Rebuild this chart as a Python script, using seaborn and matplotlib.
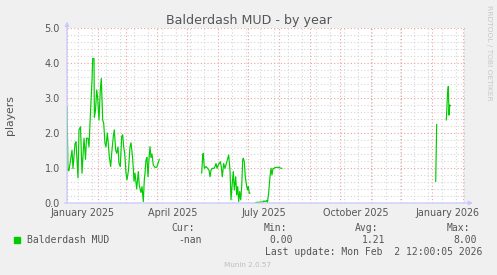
import numpy as np
import pandas as pd
import matplotlib
matplotlib.use("Agg")
import matplotlib.pyplot as plt
import seaborn as sns
from matplotlib.patches import Rectangle

# ---------------- data (days since 2025-01-01, players) ----------------
seg1_days = [0, 1, 2, 5, 6, 8, 9, 11, 12, 13.5, 15, 17, 18.5, 19.5, 21, 22, 23.5,
             25, 25.7, 27, 27.4, 28.5, 29.7, 30.7, 32, 33.3, 34.3, 35.7, 36.7, 38,
             39, 40.3, 41.3, 42.3, 43.7, 44.7, 46.3, 47.3, 48.7, 49.7, 51, 52, 53.3,
             54.7, 55.7, 56.7, 57.7, 59, 60, 61.5, 63, 64, 65.5, 66.5, 67, 68, 69.7,
             71.3, 72.3, 74, 75, 76.3, 77.3, 78, 79, 80, 81, 82, 83, 84, 85, 86.3,
             88, 89.7, 91.3, 92.3]
seg1_players = [2.75, 0.92, 0.93, 1.51, 0.98, 1.70, 1.75, 0.72, 2.09, 2.18, 0.85,
                1.85, 1.25, 1.85, 1.85, 1.60, 2.60, 3.50, 4.13, 4.13, 2.45, 2.64,
                3.23, 2.98, 2.37, 3.23, 3.56, 2.37, 2.28, 1.70, 1.60, 2.00, 1.70,
                1.32, 1.04, 1.42, 1.90, 2.09, 1.51, 1.42, 1.60, 1.13, 1.04, 1.90,
                1.95, 1.60, 1.42, 0.86, 0.66, 0.94, 1.60, 1.72, 1.32, 0.90, 0.62,
                0.85, 0.40, 0.90, 0.50, 0.30, 0.47, 0.04, 0.66, 0.85, 1.23, 1.30,
                0.75, 1.25, 1.61, 1.30, 1.40, 1.08, 1.02, 1.02, 1.15, 1.25]

seg2_days = [134.7, 135.7, 136.3, 137.3, 139, 140.3, 142, 143, 144, 145.3, 147, 148,
             149, 150, 151.3, 152.3, 153.3, 154.3, 155.3, 156.7, 158, 159, 160.3,
             161.7, 163, 164, 165, 166.3, 167.3, 168.7, 169.7, 170.7, 171.7, 172.7,
             173.7, 174.7, 175.7, 176.3, 177.3, 178.3, 179.7, 180.7, 181.3, 182.3, 183]
seg2_players = [0.85, 1.37, 1.42, 0.99, 1.04, 1.00, 0.94, 0.75, 0.94, 0.99, 0.99, 1.04,
                1.13, 0.99, 1.09, 1.13, 1.18, 1.04, 0.75, 1.13, 0.99, 1.09, 1.23,
                1.37, 0.94, 0.09, 0.47, 0.90, 0.37, 0.75, 0.23, 0.47, 0.04, 0.33,
                0.09, 0.47, 1.23, 1.28, 1.18, 0.75, 0.47, 0.37, 0.47, 0.28, 0.28]

seg3_days = [188, 190, 192, 194, 196, 197, 198, 199.7, 200.5, 201.7, 203, 204, 205,
             206, 207, 208, 210, 212, 213, 215]
seg3_players = [0.00, 0.02, 0.02, 0.03, 0.03, 0.06, 0.04, 0.07, 0.02, 0.30, 0.75,
                0.99, 0.80, 0.99, 0.99, 1.01, 1.02, 1.02, 1.00, 0.99]

seg4_days = [368.7, 369.7]
seg4_players = [0.61, 2.25]

seg5_days = [379.3, 380.5, 381.3, 382, 382.7, 383.3]
seg5_players = [2.37, 3.10, 3.33, 2.51, 2.80, 2.78]

origin = pd.Timestamp("2025-01-01")
last_update_day = 397.5
x_end_day = 398

y_ticks = [0.0, 1.0, 2.0, 3.0, 4.0, 5.0]
y_tick_labels = ["0.0", "1.0", "2.0", "3.0", "4.0", "5.0"]
month_labels = ["January 2025", "April 2025", "July 2025", "October 2025", "January 2026"]
month_label_dates = ["2025-01-01", "2025-04-01", "2025-07-01", "2025-10-01", "2026-01-01"]

title = "Balderdash MUD - by year"
ylabel = "players"
series_name = "Balderdash MUD"
cur_val, min_val, avg_val, max_val = "-nan", "0.00", "1.21", "8.00"
last_update = "Last update: Mon Feb  2 12:00:05 2026"

# ---------------- build frame ----------------
frames = []
for i, (d, p) in enumerate([(seg1_days, seg1_players), (seg2_days, seg2_players),
                            (seg3_days, seg3_players), (seg4_days, seg4_players),
                            (seg5_days, seg5_players)]):
    frames.append(pd.DataFrame({"day": d, "players": p, "segment": i}))
df = pd.concat(frames, ignore_index=True)

# ---------------- style ----------------
sns.set_theme(style="white")
plt.rcParams["font.family"] = ["DejaVu Sans"]

W, H = 497, 275
TXT = "#555555"
AXIS = "#C8C8FF"
MGRID = "#F0A0A0"
GRID = "#D6D6D6"
GREEN = "#00CC00"

fig = plt.figure(figsize=(W / 100, H / 100), dpi=100, facecolor="#F0F0F0")
ax = fig.add_axes([67 / W, 72 / H, 398 / W, 175 / H])
ax.set_facecolor("white")

def fx(px):
    return px / W

def fy(py):
    return 1 - py / H

# grid
month_starts = pd.date_range("2025-01-01", "2026-02-01", freq="MS")
major_x = (month_starts - origin).days.values
minor_x = np.arange(11, x_end_day, 14)
ax.set_xticks(major_x)
ax.set_xticks(minor_x, minor=True)
ax.set_xticklabels([])
ax.set_yticks(y_ticks)
ax.set_yticks(np.arange(0, 5.01, 0.2), minor=True)
ax.set_yticklabels(y_tick_labels)

ax.grid(which="minor", color=GRID, linestyle=(0, (1, 2)), linewidth=0.8)
ax.grid(which="major", color=MGRID, linestyle=(0, (1, 2)), linewidth=0.8)
ax.set_axisbelow(True)

ax.tick_params(axis="y", which="major", length=2.5, width=0.7, color=MGRID,
               labelsize=7, labelcolor=TXT, pad=2.5, direction="out")
ax.tick_params(axis="y", which="minor", length=1.5, width=0.6, color=GRID, direction="out")
ax.tick_params(axis="x", which="major", length=2.5, width=0.7, color=MGRID, direction="out")
ax.tick_params(axis="x", which="minor", length=1.5, width=0.6, color=GRID, direction="out")

for s in ax.spines.values():
    s.set_visible(False)

# data line
sns.lineplot(data=df, x="day", y="players", units="segment", estimator=None,
             sort=False, color=GREEN, linewidth=0.85, legend=False, ax=ax)
ax.set_xlabel("")
ax.set_ylabel("")
ax.set_xlim(0, x_end_day)
ax.set_ylim(0, 5.0)

ax.axvline(last_update_day, color="#909090", linewidth=1.0)

# axes with arrows
ax.annotate("", xy=(0, 1.036), xytext=(0, 0), xycoords="axes fraction",
            arrowprops=dict(arrowstyle="-|>", color=AXIS, lw=0.9, mutation_scale=6,
                            shrinkA=0, shrinkB=0))
ax.annotate("", xy=(1.02, 0), xytext=(-0.006, 0), xycoords="axes fraction",
            arrowprops=dict(arrowstyle="-|>", color=AXIS, lw=0.9, mutation_scale=6,
                            shrinkA=0, shrinkB=0))

# month labels (centred mid-month)
xt = ax.get_xaxis_transform()
for lab, d in zip(month_labels, month_label_dates):
    pos = (pd.Timestamp(d) - origin).days + 15.5
    ax.text(pos, -5 / 175, lab, transform=xt, ha="center", va="top",
            fontsize=6.9, color=TXT, clip_on=False)

# titles & labels
fig.text(fx(248.5), fy(24), title, ha="center", va="baseline", fontsize=9.1, color=TXT)
fig.text(fx(10), fy(115), ylabel, rotation=90, ha="center", va="center",
         fontsize=7.8, color=TXT)
fig.text(fx(488.5), fy(5), "RRDTOOL / TOBI OETIKER", rotation=270, ha="center",
         va="top", fontsize=5.4, color="#C8C8C8")

# legend block
mono = "DejaVu Sans Mono"
fig.patches.append(Rectangle((fx(14), fy(242.5)), 5.5 / W, 5.5 / H,
                             transform=fig.transFigure, color=GREEN))
fig.text(fx(27), fy(243), series_name, family=mono, fontsize=7, color=TXT, va="baseline")
for lab, xr, val, xv in [("Cur:", 195, cur_val, 202), ("Min:", 287, min_val, 293),
                         ("Avg:", 378, avg_val, 385), ("Max:", 470, max_val, 477)]:
    fig.text(fx(xr), fy(231), lab, family=mono, fontsize=7, color=TXT,
             ha="right", va="baseline")
    fig.text(fx(xv), fy(243), val, family=mono, fontsize=7, color=TXT,
             ha="right", va="baseline")
fig.text(fx(482), fy(255), last_update, family=mono, fontsize=7, color=TXT,
         ha="right", va="baseline")
fig.text(fx(248), fy(267), "Munin 2.0.57", fontsize=5.2, color="#BDBDBD",
         ha="center", va="baseline")

fig.savefig("out.png", dpi=100, facecolor=fig.get_facecolor())
